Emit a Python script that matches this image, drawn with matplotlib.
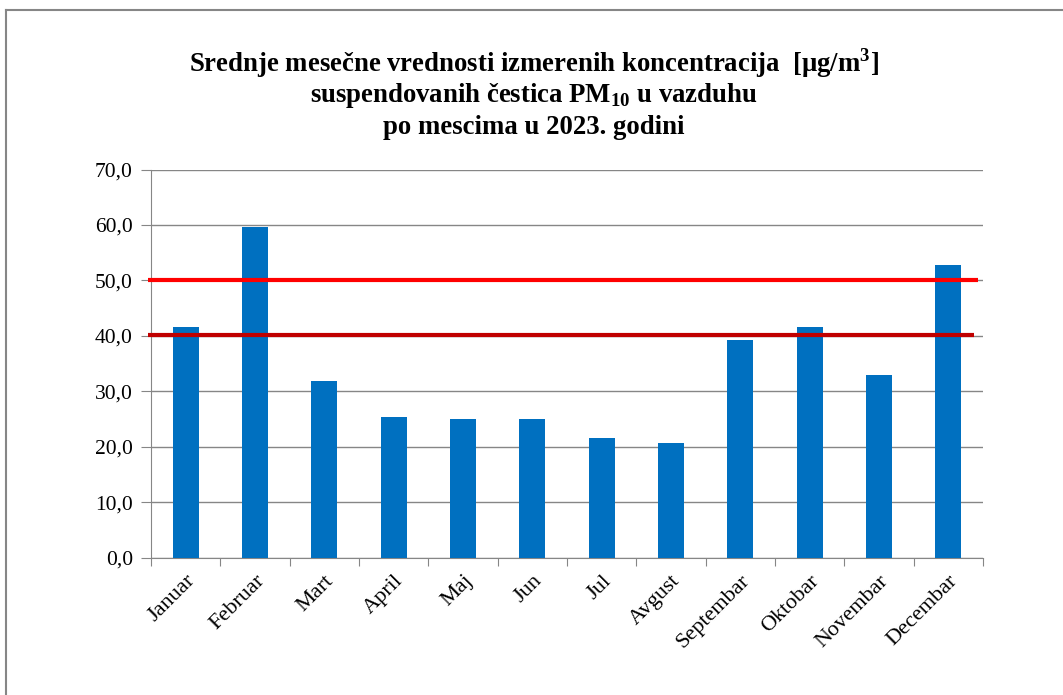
import matplotlib
matplotlib.use("Agg")
import matplotlib.pyplot as plt
from matplotlib.lines import Line2D

months = ["Januar", "Februar", "Mart", "April", "Maj", "Jun", "Jul", "Avgust",
          "Septembar", "Oktobar", "Novembar", "Decembar"]
pm10 = [41.5, 59.7, 31.8, 25.3, 24.9, 24.9, 21.6, 20.7, 39.2, 41.5, 32.9, 52.8]
limit_daily = 50.0
limit_annual = 40.0
yticks = [0, 10, 20, 30, 40, 50, 60, 70]

plt.rcParams['font.family'] = ['Liberation Serif', 'DejaVu Serif']

W, H = 1063, 695
fig = plt.figure(figsize=(W / 100, H / 100), dpi=100)
ax = fig.add_axes([151 / W, 1 - 557.5 / H, (983 - 151) / W, (557.5 - 169.5) / H])

x = list(range(len(months)))
ax.bar(x, pm10, width=0.375, color="#0070C0", zorder=3)
ax.set_xlim(-0.5, len(months) - 0.5)
ax.set_ylim(0, 70)
ax.set_yticks(yticks)
ax.set_yticklabels([f"{v:.1f}".replace(".", ",") for v in yticks], fontsize=15.5)
ax.yaxis.grid(True, color="#868686", linewidth=1, zorder=0)
for s in ["top", "right"]:
    ax.spines[s].set_visible(False)
for s in ["left", "bottom"]:
    ax.spines[s].set_color("#868686")
ax.tick_params(axis="y", length=7, color="#868686", pad=6)
ax.set_xticks([i - 0.5 for i in range(len(months) + 1)], minor=False)
ax.set_xticklabels([])
ax.tick_params(axis="x", which="major", length=6, color="#868686")
ax.set_xticks(x, minor=True)
ax.set_xticklabels(months, minor=True, rotation=45, ha="right", va="top",
                   rotation_mode="anchor", fontsize=16)
ax.tick_params(axis="x", which="minor", length=0, pad=10)

ax.plot([-0.55, 11.43], [limit_daily, limit_daily], color="#FF0000", lw=3, zorder=4,
        clip_on=False, solid_capstyle="butt")
ax.plot([-0.55, 11.37], [limit_annual + 0.1, limit_annual + 0.1], color="#C00000", lw=3, zorder=4,
        clip_on=False, solid_capstyle="butt")

fig.text(534 / W, 1 - 63 / H, "Srednje mesečne vrednosti izmerenih koncentracija  [µg/m$^{\\mathregular{3}}$]",
         ha="center", va="center", fontsize=19.3, fontweight="bold")
fig.text(534 / W, 1 - 95 / H, "suspendovanih čestica PM$_{\\mathregular{10}}$ u vazduhu",
         ha="center", va="center", fontsize=19.3, fontweight="bold")
fig.text(534 / W, 1 - 127 / H, "po mescima u 2023. godini",
         ha="center", va="center", fontsize=19.3, fontweight="bold")

fig.add_artist(Line2D([6 / W, 6 / W], [0, 1 - 9.5 / H], color="#868686", lw=1.5,
                      transform=fig.transFigure))
fig.add_artist(Line2D([6 / W, 1], [1 - 9.5 / H, 1 - 9.5 / H], color="#868686", lw=1.5,
                      transform=fig.transFigure))

fig.savefig("out.png", dpi=100)
